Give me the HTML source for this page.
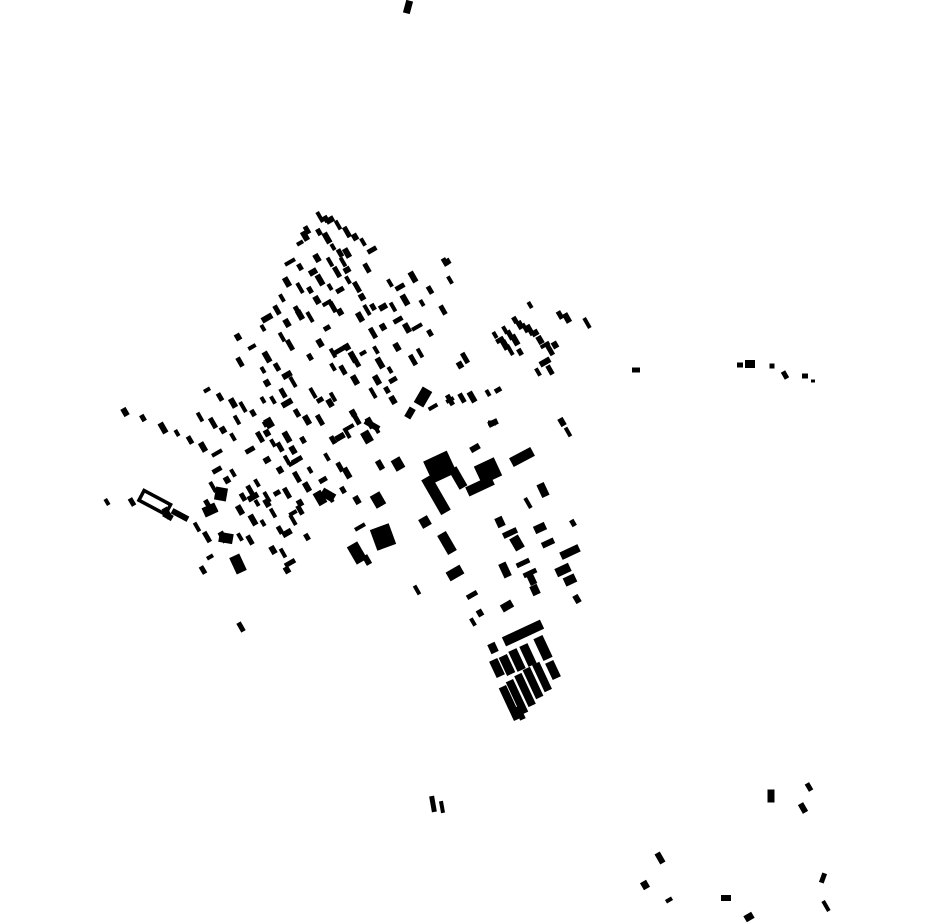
<!DOCTYPE html>
<html><head><meta charset="utf-8"><style>
html,body{margin:0;padding:0;background:#fff;}
svg{display:block;}
</style></head><body>
<svg id="s" width="930" height="924" viewBox="0 0 930 924" xmlns="http://www.w3.org/2000/svg">
<rect x="0" y="0" width="930" height="924" fill="#fff"/>
<g id="g" fill="#000"></g>
<rect x="140" y="497" width="30" height="11" fill="none" stroke="#000" stroke-width="3.5" transform="rotate(28 155 502)"/>
</svg>
<script>
var small=[
[300,243],[307,230],[305,236],[320,217],[326,219],[330,220],[338,225],[347,232],[355,237],[363,242],[372,250],
[327,238],[333,247],[340,253],[347,253],[290,262],[300,267],[317,258],[330,262],[337,272],[347,270],[348,280],[367,268],
[320,280],[330,287],[340,290],[287,282],[300,288],[310,290],[317,300],[327,303],[333,307],[340,312],
[282,298],[277,310],[267,318],[263,328],[297,310],[300,315],[310,317],[327,328],[287,323],[282,337],[290,345],
[238,337],[252,347],[240,362],[267,357],[263,370],[277,367],[287,375],[293,382],[310,357],[320,343],
[333,353],[340,350],[347,347],[333,367],[343,370],[353,357],[363,353],[357,363],
[360,317],[367,310],[373,307],[383,307],[393,307],[373,333],[383,327],[390,283],[400,287],[413,277],
[422,303],[430,290],[407,328],[417,327],[430,333],[397,347],[420,353],[413,360],[447,262],[450,280],[443,310],
[380,363],[390,370],[393,380],[377,380],[373,393],[387,390],[393,400],[433,407],[450,400],
[267,383],[273,400],[283,393],[287,403],[263,400],[297,413],[307,420],[313,393],[320,400],[330,403],[333,397],
[320,420],[353,413],[350,427],[357,420],[370,423],[377,430],[333,440],[340,437],[347,433],
[303,440],[293,450],[287,460],[297,460],[267,433],[273,443],[280,447],[287,437],
[207,390],[220,397],[233,403],[243,407],[253,413],[267,423],[200,417],[213,423],[223,430],[233,437],[250,450],
[163,428],[177,433],[190,440],[203,447],[217,453],[143,418],[125,412],[237,420],[260,437],[267,460],
[327,457],[340,467],[347,473],[310,470],[323,480],[307,487],[330,497],[343,490],[357,500],
[293,463],[297,477],[280,470],[257,483],[250,490],[253,497],[257,503],[243,497],[240,510],
[267,497],[277,493],[267,503],[273,513],[287,493],[300,503],[293,513],[300,510],[253,520],[263,523],
[280,530],[287,533],[293,520],[307,537],[273,550],[283,553],[290,563],[287,570],[240,537],[250,540],
[223,537],[210,557],[203,570],[220,493],[213,487],[207,503],[213,510],[197,527],[207,537],[227,480],[233,473],[217,470],
[167,513],[107,502],[132,502],[367,560],[360,527],
[515,320],[520,325],[525,328],[530,330],[535,333],[505,330],[510,335],[515,340],[495,335],[500,340],[505,345],[510,350],[520,352],
[540,340],[545,345],[550,350],[555,345],[538,372],[550,370],[545,362],[530,305],[560,315],[567,318],[587,323],
[498,390],[562,422],[568,432],[465,358],[460,365],[450,400],[462,398],[472,397],[488,393],[445,262],
[475,448],[528,503],[573,523],[577,599],[417,590],[472,595],[480,613],[473,622],[241,627],
[660,858],[669,900],[809,787],[803,808],[826,906],[319,232],[313,272],[343,262],[357,287],[362,297],[376,350],[398,320],[405,300]
];
var big=[
[408,7,7,13,15],[423,397,11,18,30],[410,413,7,11,30],[493,423,10,6,-25],[522,457,24,10,-28],
[440,467,26,24,-25],[436,495,11,40,-30],[458,478,9,22,-30],[488,471,22,20,-25],[480,486,28,10,-25],
[543,490,8,14,-25],[500,522,8,10,-25],[510,533,15,6,-25],[540,528,12,8,-25],[548,543,13,6,-25],
[570,552,20,8,-25],[517,543,10,14,-30],[505,570,8,15,-25],[523,563,14,5,-25],[530,573,14,5,-25],
[532,580,7,10,-25],[535,590,8,10,-25],[563,570,15,9,-25],[570,580,12,9,-25],
[425,522,10,10,-30],[447,543,10,22,-30],[455,573,16,10,-30],[507,606,12,8,-30],[523,633,42,10,-25],
[493,648,8,10,-25],[497,668,9,18,-25],[507,665,9,20,-25],[517,660,9,22,-25],[528,655,9,22,-25],[543,648,10,24,-25],[553,670,9,18,-25],
[510,703,8,36,-25],[517,697,8,36,-25],[525,690,8,34,-25],[533,683,8,32,-25],[542,677,8,30,-25],[520,713,6,14,-25],
[383,537,20,22,-20],[378,500,11,14,-30],[357,553,12,20,-30],[238,564,11,18,-25],[221,494,12,13,10],
[168,516,6,10,-60],[180,515,18,6,28],[210,510,14,10,-25],
[226,538,14,10,10],[320,498,9,14,-30],[398,464,10,12,-30],[380,465,6,10,-30],[367,437,9,12,-30],
[372,425,6,16,-60],[355,380,6,10,-30],[269,423,8,10,-30],[328,495,9,14,-60],
[433,804,5,16,-10],[442,807,4,12,-10],[771,796,7,13,0],[645,885,7,8,-30],[726,898,10,6,0],[749,917,9,7,-30],[823,878,5,10,20],
[636,370,8,5,0],[740,365,6,5,0],[750,364,10,8,0],[772,366,5,5,0],[785,375,5,8,-30],[805,376,6,5,0],[813,381,4,3,0],
[492,423,8,5,0]
];
var g=document.getElementById('g'),ns='http://www.w3.org/2000/svg';
function add(cx,cy,w,h,a){var r=document.createElementNS(ns,'rect');r.setAttribute('x',cx-w/2);r.setAttribute('y',cy-h/2);r.setAttribute('width',w);r.setAttribute('height',h);r.setAttribute('transform','rotate('+a+' '+cx+' '+cy+')');g.appendChild(r);}
small.forEach(function(p,i){var w=4+(i%3),h=7+(i%4)*1.5;add(p[0],p[1],w,h,-30+(i%5==0?90:0));});
big.forEach(function(b){add(b[0],b[1],b[2],b[3],b[4]);});
</script>
</body></html>
